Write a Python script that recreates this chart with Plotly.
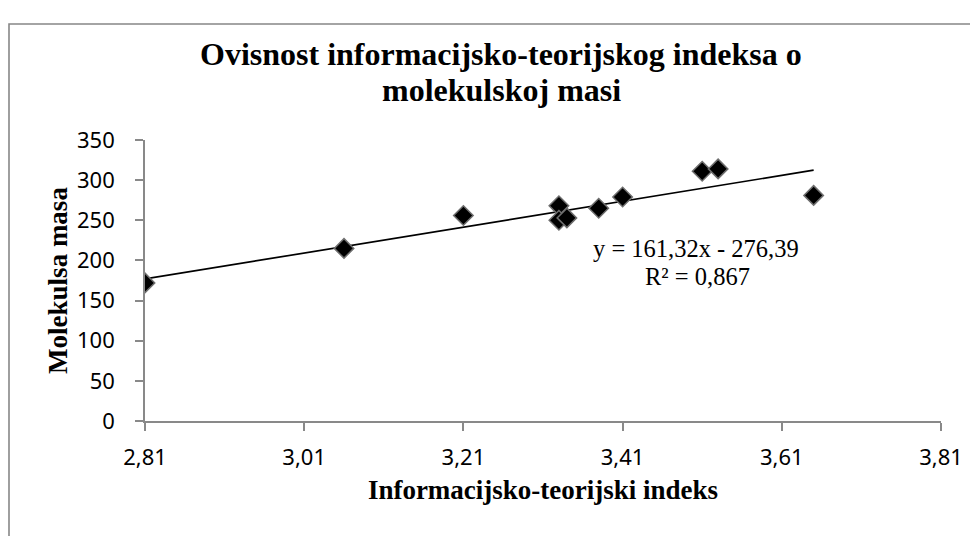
import plotly.graph_objects as go

# Data
index_vals = [2.81, 3.06, 3.21, 3.33, 3.33, 3.34, 3.38, 3.41, 3.51, 3.53, 3.65]
mass_vals = [172, 215, 256, 268, 250, 253, 265, 279, 311, 314, 281]

slope = 161.32
intercept = -276.39

x_tick_vals = [2.81, 3.01, 3.21, 3.41, 3.61, 3.81]
x_tick_text = ["2,81", "3,01", "3,21", "3,41", "3,61", "3,81"]
y_tick_vals = [0, 50, 100, 150, 200, 250, 300, 350]

title_line1 = "<b>Ovisnost informacijsko-teorijskog indeksa o</b>"
title_line2 = "<b>molekulskoj masi</b>"
x_title = "<b>Informacijsko-teorijski indeks</b>"
y_title = "<b>Molekulsa masa</b>"
eq_line1 = "y = 161,32x - 276,39"
eq_line2 = "R² = 0,867"

W, H = 978, 536
L, R, T, B = 137, 45, 132, 123
pw = W - L - R
ph = H - T - B

def px_x(px):
    return (px - L) / pw

def px_y(py):
    return (H - B - py) / ph

x_line = [min(index_vals), max(index_vals)]
y_line = [slope * v + intercept for v in x_line]

fig = go.Figure()
fig.add_trace(go.Scatter(x=x_line, y=y_line, mode="lines",
                         line=dict(color="black", width=1.7),
                         showlegend=False, hoverinfo="skip"))
fig.add_trace(go.Scatter(x=index_vals, y=mass_vals, mode="markers",
                         marker=dict(symbol="diamond", size=15, color="black",
                                     line=dict(color="#6e6e6e", width=1.5)),
                         showlegend=False))

tick_font = dict(family="Noto Sans", size=22, color="black")
axis_title_font = dict(family="Liberation Serif", size=27, color="black")
title_font = dict(family="Liberation Serif", size=32, color="black")
eq_font = dict(family="Liberation Serif", size=24.5, color="black")

fig.update_layout(
    width=W, height=H,
    margin=dict(l=L, r=R, t=T, b=B, pad=0),
    paper_bgcolor="white", plot_bgcolor="white",
    xaxis=dict(range=[2.81, 3.81], tickvals=x_tick_vals, ticktext=x_tick_text,
               showgrid=False, zeroline=False, showline=True,
               linecolor="#898989", linewidth=1.6,
               ticks="outside", ticklen=8, tickcolor="#898989", tickwidth=1.6,
               ticklabelstandoff=8,
               tickfont=tick_font,
               title=dict(text=x_title, standoff=10, font=axis_title_font)),
    yaxis=dict(range=[0, 350], tickvals=y_tick_vals,
               showgrid=False, zeroline=False, showline=True,
               linecolor="#898989", linewidth=1.6,
               ticks="outside", ticklen=8, tickcolor="#898989", tickwidth=1.6,
               ticklabelstandoff=16,
               tickfont=tick_font,
               title=dict(text=y_title, standoff=2, font=axis_title_font)),
    annotations=[
        dict(text=title_line1, x=px_x(493), y=px_y(46), xref="paper", yref="paper",
             showarrow=False, xanchor="center", yanchor="middle", font=title_font),
        dict(text=title_line2, x=px_x(493), y=px_y(82), xref="paper", yref="paper",
             showarrow=False, xanchor="center", yanchor="middle", font=title_font),
        dict(text=eq_line1, x=px_x(688), y=px_y(240), xref="paper", yref="paper",
             showarrow=False, xanchor="center", yanchor="middle", font=eq_font),
        dict(text=eq_line2, x=px_x(689), y=px_y(268), xref="paper", yref="paper",
             showarrow=False, xanchor="center", yanchor="middle", font=eq_font),
    ],
    shapes=[dict(type="rect", xref="paper", yref="paper",
                 x0=px_x(1), x1=px_x(1010), y0=px_y(580), y1=px_y(16),
                 line=dict(color="#878787", width=1.6), layer="below")],
)

fig.write_html("out.html")
